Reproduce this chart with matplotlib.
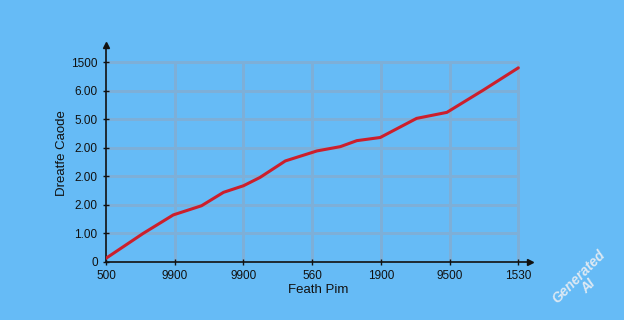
import matplotlib
matplotlib.use("Agg")
import matplotlib.pyplot as plt

plt.rcParams["font.family"] = ["Liberation Sans", "DejaVu Sans"]

x_tick_labels = ["500", "9900", "9900", "560", "1900", "9500", "1530"]
y_tick_labels = ["0", "1.00", "2.00", "2.00", "2.00", "5.00", "6.00", "1500"]

x_values = [0, 0.54, 0.98, 1.39, 1.71, 2.0, 2.24, 2.61, 3.07, 3.41, 3.65, 3.99, 4.52, 4.96, 5.49, 6.0]
y_values = [0.13, 1.00, 1.65, 1.97, 2.44, 2.67, 2.96, 3.54, 3.89, 4.04, 4.25, 4.36, 5.03, 5.24, 6.02, 6.80]

bg = "#66bbf6"
fig = plt.figure(figsize=(6.24, 3.2), dpi=100, facecolor=bg)
ax = fig.add_axes([106/624, 1-262/320, (530-106)/624, (262-45)/320])
ax.set_facecolor(bg)

xt = list(range(len(x_tick_labels)))
yt = list(range(len(y_tick_labels)))
ax.set_xlim(0, 6.17)
ax.set_ylim(0, 7.6)

# grid
ax.hlines(yt[1:], 0, xt[-1], color="#7dafd8", lw=1.0, zorder=1, antialiased=False)
ax.vlines(xt[1:], 0, yt[-1], color="#7dafd8", lw=1.0, zorder=1, antialiased=False)

ax.plot(x_values, y_values, color="#cc1f2c", lw=2.2, zorder=3,
        solid_capstyle="round", solid_joinstyle="round")

for s in ["top", "right"]:
    ax.spines[s].set_visible(False)
for s in ["left", "bottom"]:
    ax.spines[s].set_color("#111111")
    ax.spines[s].set_linewidth(1.2)

# arrows
ax.plot(1, 0, ">", color="#111111", ms=5, transform=ax.transAxes, clip_on=False)
ax.plot(0, 1, "^", color="#111111", ms=5, transform=ax.transAxes, clip_on=False)

ax.set_xticks(xt)
ax.set_xticklabels(x_tick_labels)
ax.set_yticks(yt)
ax.set_yticklabels(y_tick_labels)
ax.tick_params(axis="both", direction="inout", length=5, width=1, color="#111111",
               labelsize=8.5, labelcolor="#111111")
ax.tick_params(axis="x", pad=3)

ax.set_xlabel("Feath Pim", fontsize=9.5, color="#111111", labelpad=2)
ax.set_ylabel("Dreatfe Caode", fontsize=9.5, color="#111111", labelpad=2)

fig.text(0.935, 0.12, "Generated\nAI", rotation=45, fontsize=10, color="#dde9f3",
         ha="center", va="center", fontstyle="italic", fontweight="bold",
         linespacing=0.9)

fig.savefig("out.png", dpi=100, facecolor=bg)
